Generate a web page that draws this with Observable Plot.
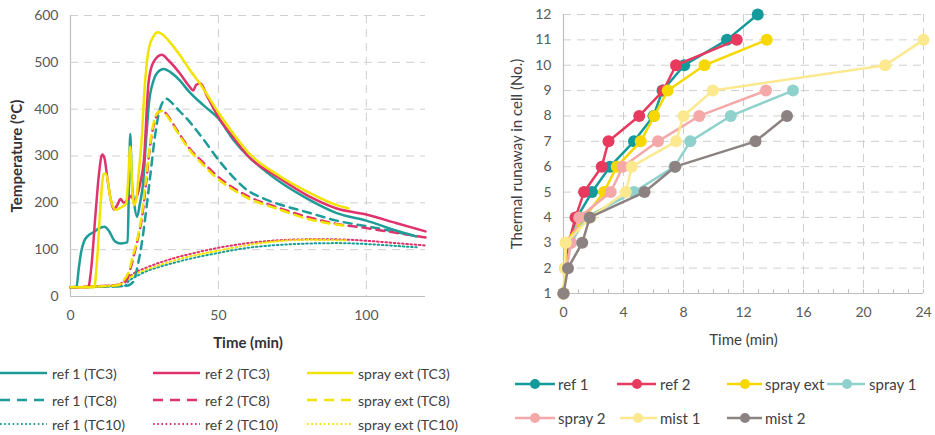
<!DOCTYPE html>
<html><head><meta charset="utf-8">
<script src="https://cdn.jsdelivr.net/npm/d3@7"></script>
<script src="https://cdn.jsdelivr.net/npm/@observablehq/plot@0.6"></script>
<style>
body{margin:0;background:#fff;font-family:Lato,"Open Sans",sans-serif;}
#wrap{position:relative;width:935px;height:435px;overflow:hidden;background:#fff}
.pl{position:absolute;top:0}
.lg{position:absolute;display:flex;align-items:center;font-size:14px;color:#404040;white-space:nowrap;height:20px;margin-top:-10px}
.lg svg{display:block}
</style></head><body>
<div id="wrap"><div id="left" class="pl" style="left:0"></div><div id="right" class="pl" style="left:490px"></div></div>
<script>
// ---------- Left chart data: [time (min), temperature (°C)] ----------
const ref1_TC3 = [[0,20],[2,20],[2.8,60],[3.6,95],[4.6,118],[6,130],[8,138],[9.5,145],[11.5,149],[13,140],[15,118],[17,113],[19.3,116],[19.8,250],[20.2,347],[20.7,250],[21.5,200],[22.5,170],[23.5,200],[24.5,240],[25.5,330],[26.5,412],[28,460],[30,482],[31.5,486],[34,478],[37,461],[40,438],[45,408],[50,380],[55,335],[60,300],[65,272],[70,248],[80,209],[90,178],[100,162],[110,141],[116,130]];
const ref2_TC3 = [[0,20],[6,20],[7,60],[8.5,180],[9.6,260],[10.7,303],[11.5,295],[12.4,255],[13.5,210],[14.6,186],[15.8,195],[16.9,208],[18,200],[19.7,210],[20.5,215],[21.5,205],[22.5,215],[23.5,240],[24.8,290],[26.4,458],[28,500],[30.9,516],[33,505],[37,476],[40,450],[41.5,440],[42.5,452],[44,455],[46,430],[50,383],[55,340],[60,300],[70,255],[80,216],[90,188],[100,175],[110,157],[120,139]];
const spray_TC3 = [[0,20],[8,20],[9,80],[10.2,200],[11.2,262],[12,262],[13.5,210],[15.2,185],[17,190],[18.8,198],[19.5,250],[20.2,320],[20.8,240],[21.5,195],[22.3,210],[23,260],[24,330],[25,440],[26.5,530],[28,555],[29.5,564],[31,560],[34,540],[37,515],[40,487],[44,452],[50,393],[55,348],[60,308],[70,260],[80,224],[90,195],[94,188]];
const ref1_TC8 = [[0,20],[18,22],[20,25],[21.5,35],[22.5,60],[24,110],[25.5,180],[27,260],[28.5,340],[30,395],[31.5,418],[32.5,422],[34,415],[37,395],[40,375],[45,335],[50,292],[55,255],[60,226],[65,210],[70,198],[80,180],[90,162],[100,150],[110,138],[117,128]];
const ref2_TC8 = [[0,20],[17,25],[19,35],[20.3,60],[21.5,90],[23,130],[24.2,170],[25.5,240],[27,326],[28.5,375],[30,395],[31,397],[33,385],[36,355],[40,318],[45,285],[50,255],[55,232],[60,214],[70,190],[80,170],[90,155],[100,146],[110,136],[120,126]];
const spray_TC8 = [[0,20],[16,24],[18,35],[19.8,55],[21,85],[22.5,120],[24,170],[25.5,250],[27,330],[28.5,380],[30,395],[31,396],[33,382],[36,352],[40,315],[45,280],[50,250],[55,228],[60,210],[70,187],[80,166],[93,151]];
const ref1_TC10 = [[0,20],[18,22],[20,35],[22,42],[25,52],[30,63],[35,72],[40,80],[50,93],[60,104],[70,110],[80,113],[90,114],[100,112],[110,108],[117,105]];
const ref2_TC10 = [[0,20],[16,25],[19,38],[22,52],[25,60],[30,72],[35,82],[40,90],[50,104],[60,114],[70,120],[80,122],[90,122],[100,119],[110,114],[120,109]];
const spray_TC10 = [[0,20],[16,24],[19,35],[22,48],[25,56],[30,67],[35,77],[40,85],[50,98],[60,110],[70,118],[80,121],[93,120]];
const tempTicks = [0,100,200,300,400,500,600];
const timeTicksLeft = [0,50,100];

// ---------- Right chart data ----------
const cellNo = [1,2,3,4,5,6,7,8,9,10,11,12];
const tRef1 = [0,0.15,0.4,0.9,1.9,3.1,4.7,6.0,6.6,8.05,10.9,12.95];
const tRef2 = [0,0.15,0.35,0.8,1.37,2.55,3.0,5.05,6.65,7.5,11.55];
const tSprayExt = [0,0.1,0.15,1.4,2.7,3.55,5.15,6.05,6.95,9.4,13.55];
const tSpray1 = [0,0.2,0.5,1.5,4.7,7.4,8.45,11.15,15.3];
const tSpray2 = [0,0.2,0.5,1.05,3.15,3.95,6.3,9.05,13.5];
const tMist1 = [0,0.1,0.15,1.8,4.15,4.55,7.5,8.0,9.95,21.45,24.0];
const tMist2 = [0,0.3,1.25,1.75,5.4,7.45,12.8,14.9];
const cellTicks = [1,2,3,4,5,6,7,8,9,10,11,12];
const timeTicksRight = [0,4,8,12,16,20,24];
const minorTicksRight = [0,1,2,3,4,5,6,7,8,9,10,11,12,13,14,15,16,17,18,19,20,21,22,23,24];

// ---------- styles ----------
const TEAL = "#1e9c98", RED = "#e0336b", YEL = "#f2e300";
const DOT = "1.6,2.6", DASH = "8,6";
const leftSeries = [
  {name:"ref 1 (TC10)", data:ref1_TC10, color:TEAL, dash:DOT, w:2},
  {name:"ref 2 (TC10)", data:ref2_TC10, color:RED, dash:DOT, w:2},
  {name:"spray ext (TC10)", data:spray_TC10, color:YEL, dash:DOT, w:2},
  {name:"ref 1 (TC8)", data:ref1_TC8, color:TEAL, dash:DASH, w:2.5},
  {name:"ref 2 (TC8)", data:ref2_TC8, color:RED, dash:DASH, w:2.5},
  {name:"spray ext (TC8)", data:spray_TC8, color:YEL, dash:DASH, w:2.5},
  {name:"ref 1 (TC3)", data:ref1_TC3, color:TEAL, dash:null, w:2.5},
  {name:"ref 2 (TC3)", data:ref2_TC3, color:RED, dash:null, w:2.5},
  {name:"spray ext (TC3)", data:spray_TC3, color:YEL, dash:null, w:2.5}
];
const rightSeries = [
  {name:"ref 1", t:tRef1, color:"#149a9a"},
  {name:"ref 2", t:tRef2, color:"#e83a5f"},
  {name:"spray ext", t:tSprayExt, color:"#f6d800"},
  {name:"spray 1", t:tSpray1, color:"#8fd1cc"},
  {name:"spray 2", t:tSpray2, color:"#f5a8a8"},
  {name:"mist 1", t:tMist1, color:"#fbe88f"},
  {name:"mist 2", t:tMist2, color:"#8c8282"}
];
const GRID = {stroke:"#cfcfcf", strokeOpacity:1, strokeDasharray:"8,6", strokeWidth:1};
const AXIS = "#bfbfbf";
const TXT = "#595959";

// ---------- Left plot ----------
const leftPlot = Plot.plot({
  width:470, height:360, marginLeft:70, marginRight:45, marginTop:15, marginBottom:64,
  style:{fontFamily:"Lato, sans-serif", fontSize:"14px", color:TXT, background:"#fff"},
  x:{domain:[0,120]}, y:{domain:[0,600]},
  marks:[
    Plot.gridY(tempTicks.filter(d => d > 0), GRID),
    Plot.gridX(timeTicksLeft.filter(d => d > 0), GRID),
    Plot.ruleY([0], {stroke:AXIS, strokeWidth:1.2}),
    Plot.ruleX([0], {stroke:AXIS, strokeWidth:1.2}),
    Plot.axisX(timeTicksLeft, {tickSize:0, tickPadding:14, label:null, fill:TXT}),
    Plot.axisY(tempTicks, {tickSize:0, tickPadding:12, label:null, fill:TXT}),
    Plot.text(["Time (min)"], {text:d => d, frameAnchor:"bottom", lineAnchor:"middle", dy:47, fontWeight:"bold", fontSize:15, fill:"#333"}),
    Plot.text(["Temperature (°C)"], {text:d => d, frameAnchor:"left", textAnchor:"middle", lineAnchor:"middle", rotate:-90, dx:-53, fontWeight:"bold", fontSize:15, fill:"#333"}),
    ...leftSeries.map(s => Plot.line(s.data, {x:d => d[0], y:d => d[1], stroke:s.color, strokeWidth:s.w, strokeDasharray:s.dash, curve:"monotone-x"}))
  ]
});
document.getElementById("left").appendChild(leftPlot);

// ---------- Right plot ----------
const rightPlot = Plot.plot({
  width:445, height:380, marginLeft:73, marginRight:12, marginTop:14, marginBottom:87,
  style:{fontFamily:"Lato, sans-serif", fontSize:"14px", color:TXT, background:"#fff"},
  x:{domain:[0,24]}, y:{domain:[1,12]},
  marks:[
    Plot.gridY(cellTicks.filter(d => d > 1), GRID),
    Plot.gridX(timeTicksRight.filter(d => d > 0), GRID),
    Plot.ruleY([1], {stroke:AXIS, strokeWidth:1.2}),
    Plot.ruleX([0], {stroke:AXIS, strokeWidth:1.2}),
    Plot.axisX(minorTicksRight, {tickSize:-4, tickFormat:() => "", label:null, stroke:AXIS}),
    Plot.axisX(timeTicksRight, {tickSize:0, tickPadding:14, label:null, fill:TXT}),
    Plot.axisY(cellTicks, {tickSize:0, tickPadding:12, label:null, fill:TXT}),
    Plot.text(["Time (min)"], {text:d => d, frameAnchor:"bottom", lineAnchor:"middle", dy:47, fontSize:15, fill:"#404040"}),
    Plot.text(["Thermal runaway in cell (No.)"], {text:d => d, frameAnchor:"left", textAnchor:"middle", lineAnchor:"middle", rotate:-90, dx:-46, fontSize:15, fill:"#404040"}),
    ...rightSeries.flatMap(s => {
      const rows = s.t.map((t, i) => ({t, c:cellNo[i]}));
      return [
        Plot.line(rows, {x:"t", y:"c", stroke:s.color, strokeWidth:2.5}),
        Plot.dot(rows, {x:"t", y:"c", fill:s.color, r:6})
      ];
    })
  ]
});
document.getElementById("right").appendChild(rightPlot);

// ---------- Legends ----------
const wrap = document.getElementById("wrap");
function legendItem(x0, x1, textX, y, color, label, opts = {}) {
  const div = document.createElement("div");
  div.className = "lg";
  div.style.left = x0 + "px";
  div.style.top = y + "px";
  if (opts.fontSize) div.style.fontSize = opts.fontSize + "px";
  const w = x1 - x0;
  const svg = d3.create("svg").attr("width", w).attr("height", 20);
  svg.append("line").attr("x1", 0).attr("x2", w).attr("y1", 10).attr("y2", 10)
    .attr("stroke", color).attr("stroke-width", opts.w || 2.5)
    .attr("stroke-dasharray", opts.dash || null);
  if (opts.marker) svg.append("circle").attr("cx", opts.marker - x0).attr("cy", 10).attr("r", 5).attr("fill", color);
  div.appendChild(svg.node());
  const span = document.createElement("span");
  span.textContent = label;
  span.style.marginLeft = (textX - x1) + "px";
  div.appendChild(span);
  wrap.appendChild(div);
}
const leftCols = [[0,47,52],[153,200,205],[307,353,358]];
const leftRows = [373, 400, 424];
const leftOrder = [
  ["ref 1 (TC3)", "ref 2 (TC3)", "spray ext (TC3)"],
  ["ref 1 (TC8)", "ref 2 (TC8)", "spray ext (TC8)"],
  ["ref 1 (TC10)", "ref 2 (TC10)", "spray ext (TC10)"]
];
leftOrder.forEach((row, ri) => row.forEach((name, ci) => {
  const s = leftSeries.find(d => d.name === name);
  const [x0, x1, tx] = leftCols[ci];
  legendItem(x0, x1, tx, leftRows[ri], s.color, name, {dash:s.dash ? (s.dash === DOT ? DOT : "10,7") : null, w:s.w});
}));
const rightLegend = [
  ["ref 1", 515, 555, 535, 558, 384],
  ["ref 2", 617, 656, 637, 660, 384],
  ["spray ext", 727, 762, 745, 765, 384],
  ["spray 1", 827, 865, 847, 869, 384],
  ["spray 2", 515, 555, 535, 558, 418],
  ["mist 1", 620, 657, 638, 660, 418],
  ["mist 2", 727, 762, 745, 765, 418]
];
rightLegend.forEach(([name, x0, x1, m, tx, y]) => {
  const s = rightSeries.find(d => d.name === name);
  legendItem(x0, x1, tx, y, s.color, name, {marker:m, fontSize:15});
});
</script>
</body></html>
